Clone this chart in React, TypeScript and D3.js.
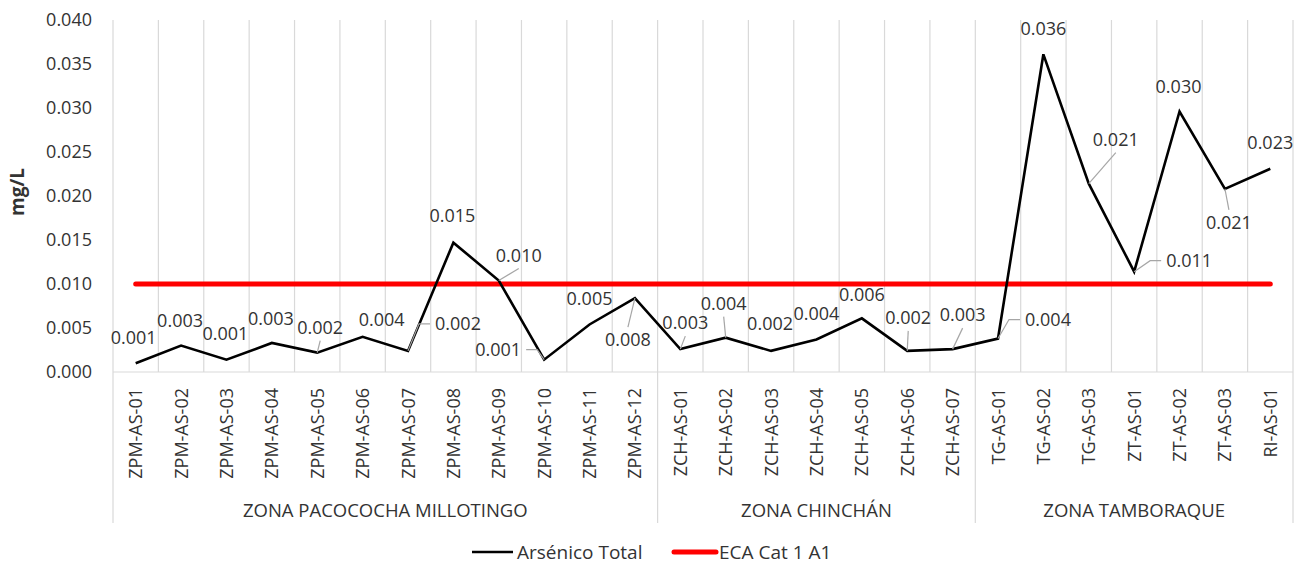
import React from "react";
import * as d3 from "d3";

// ---------- DATA ----------
const categories = [
  "ZPM-AS-01", "ZPM-AS-02", "ZPM-AS-03", "ZPM-AS-04", "ZPM-AS-05", "ZPM-AS-06",
  "ZPM-AS-07", "ZPM-AS-08", "ZPM-AS-09", "ZPM-AS-10", "ZPM-AS-11", "ZPM-AS-12",
  "ZCH-AS-01", "ZCH-AS-02", "ZCH-AS-03", "ZCH-AS-04", "ZCH-AS-05", "ZCH-AS-06", "ZCH-AS-07",
  "TG-AS-01", "TG-AS-02", "TG-AS-03", "ZT-AS-01", "ZT-AS-02", "ZT-AS-03", "RI-AS-01",
];
const arsenicoTotal = [
  0.0010, 0.0030, 0.0014, 0.0033, 0.0022, 0.0040,
  0.0024, 0.0147, 0.0104, 0.0014, 0.0054, 0.0084,
  0.0026, 0.0039, 0.0024, 0.0037, 0.0061, 0.0024, 0.0026,
  0.0038, 0.0361, 0.0214, 0.0114, 0.0296, 0.0208, 0.0231,
];
const ecaLimit = 0.010;
const zones = ["ZONA PACOCOCHA MILLOTINGO", "ZONA CHINCHÁN", "ZONA TAMBORAQUE"];
const zoneCounts = [12, 7, 7];
const yTicks = [0, 0.005, 0.01, 0.015, 0.02, 0.025, 0.03, 0.035, 0.04];
const seriesNames = ["Arsénico Total", "ECA Cat 1 A1"];
const yTitle = "mg/L";

// ---------- LAYOUT (label placement relative to point, px) ----------
// [dx, dy, leaderType] leaderType: 0 none, 1 straight, 2 elbow
const labelLayout: [number, number, number][] = [
  [-2, -26, 0], [-1, -25, 0], [-1, -26, 0], [-1, -24, 0], [3, -25, 1], [19, -17, 0],
  [50, -27, 2], [-1, -27, 0], [20, -25, 1], [-46, -10, 2], [0, -25.5, 0], [-7, 42, 1],
  [5, -26, 1], [-2, -34, 1], [-1, -27, 0], [0, -26, 0], [0, -24, 0], [1, -33, 1], [10, -34, 1],
  [50, -19, 2], [0, -26, 0], [27, -44, 1], [55, -11, 2], [-1, -25, 0], [4, 34, 1], [0, -26, 0],
];

const W = 1305;
const H = 564;
const left = 113;
const right = 1293;
const top = 20;
const bottom = 372;
const FONT = "'Open Sans', sans-serif";
const TEXT = "#333333";
const GRID = "#d9d9d9";

export default function App() {
  const x = d3.scaleBand<string>().domain(categories).range([left, right]).padding(0);
  const y = d3.scaleLinear().domain([0, 0.04]).range([bottom, top]);
  const fmt = d3.format(".3f");
  const bw = x.bandwidth();
  const cx = (c: string) => (x(c) as number) + bw / 2;

  const line = d3
    .line<number>()
    .x((_, i) => cx(categories[i]))
    .y((d) => y(d));

  const zoneStarts: number[] = [];
  let acc = 0;
  zoneCounts.forEach((n) => {
    zoneStarts.push(acc);
    acc += n;
  });

  const labelW = 46;
  const labelH = 14;

  return (
    <svg
      width={W}
      height={H}
      style={{ position: "absolute", left: 0, top: 0, background: "#fff" }}
      fontFamily={FONT}
    >
      {d3.range(categories.length + 1).map((k) => {
        const gx = k < categories.length ? (x(categories[k]) as number) : right;
        return (
          <line key={"g" + k} x1={gx} x2={gx} y1={top} y2={bottom} stroke={GRID} strokeWidth={1.2} />
        );
      })}
      <line x1={left} x2={right} y1={bottom} y2={bottom} stroke={GRID} strokeWidth={1.2} />
      {[...zoneStarts, categories.length].map((s, i) => {
        const sx = s < categories.length ? (x(categories[s]) as number) : right;
        return <line key={"s" + i} x1={sx} x2={sx} y1={bottom} y2={523} stroke={GRID} strokeWidth={1.2} />;
      })}

      {yTicks.map((t) => (
        <text key={"t" + t} x={92} y={y(t)} dy="0.35em" textAnchor="end" fontSize={18} fill={TEXT}>
          {fmt(t)}
        </text>
      ))}
      <text
        transform={`translate(24,${(top + bottom) / 2 - 4}) rotate(-90)`}
        textAnchor="middle"
        fontSize={19}
        fontWeight="bold"
        fill={TEXT}
      >
        {yTitle}
      </text>

      {categories.map((c) => (
        <text
          key={c}
          transform={`translate(${cx(c) + 6.5},${388}) rotate(-90)`}
          textAnchor="end"
          fontSize={18}
          fill={TEXT}
        >
          {c}
        </text>
      ))}
      {zones.map((z, i) => {
        const s = zoneStarts[i];
        const e = s + zoneCounts[i];
        const x0 = x(categories[s]) as number;
        const x1 = e < categories.length ? (x(categories[e]) as number) : right;
        return (
          <text key={z} x={(x0 + x1) / 2} y={517} textAnchor="middle" fontSize={18.5} fill={TEXT}>
            {z}
          </text>
        );
      })}

      <line
        x1={cx(categories[0])}
        x2={cx(categories[categories.length - 1])}
        y1={y(ecaLimit)}
        y2={y(ecaLimit)}
        stroke="#ff0000"
        strokeWidth={5}
        strokeLinecap="round"
      />
      <path d={line(arsenicoTotal) || ""} fill="none" stroke="#000" strokeWidth={2.6} strokeLinejoin="miter" />

      {arsenicoTotal.map((v, i) => {
        const [dx, dy, type] = labelLayout[i];
        if (!type) return null;
        const px = cx(categories[i]);
        const py = y(v);
        const lx = px + dx;
        const ly = py + dy;
        let d = "";
        if (type === 1) {
          const ey = dy < 0 ? ly + labelH / 2 + 6 : ly - labelH / 2 - 6;
          d = `M${px},${py}L${lx},${ey}`;
        } else {
          const sign = dx > 0 ? -1 : 1;
          const edge = lx + sign * (labelW / 2 + 5);
          const elbow = edge + sign * 11;
          d = `M${edge},${ly}L${elbow},${ly}L${px},${py}`;
        }
        return <path key={"l" + i} d={d} fill="none" stroke="#a6a6a6" strokeWidth={1.2} />;
      })}

      {arsenicoTotal.map((v, i) => {
        const [dx, dy] = labelLayout[i];
        return (
          <text
            key={"d" + i}
            x={cx(categories[i]) + dx}
            y={y(v) + dy}
            dy="0.35em"
            textAnchor="middle"
            fontSize={18}
            fill={TEXT}
          >
            {fmt(v)}
          </text>
        );
      })}

      <g>
        <line x1={472} x2={513} y1={552} y2={552} stroke="#000" strokeWidth={2.6} />
        <text x={517} y={552} dy="0.35em" fontSize={19} fill={TEXT}>
          {seriesNames[0]}
        </text>
        <line x1={674} x2={716} y1={552} y2={552} stroke="#ff0000" strokeWidth={5} strokeLinecap="round" />
        <text x={719} y={552} dy="0.35em" fontSize={19} fill={TEXT}>
          {seriesNames[1]}
        </text>
      </g>
    </svg>
  );
}
